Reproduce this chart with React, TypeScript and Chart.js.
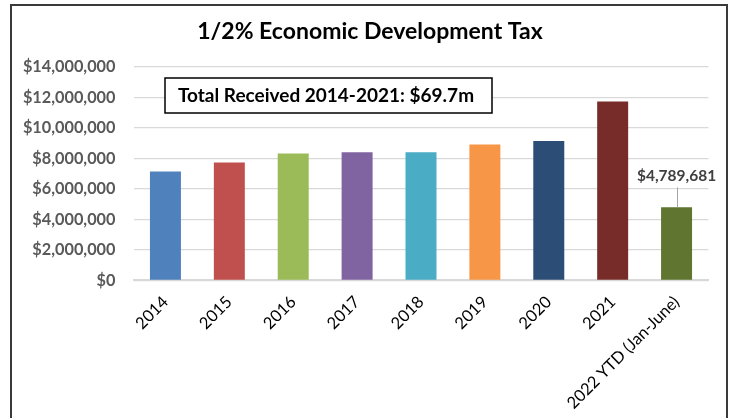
import React, { useEffect, useRef } from "react";
import { Chart, registerables } from "chart.js";

Chart.register(...registerables);

const categories = [
  "2014",
  "2015",
  "2016",
  "2017",
  "2018",
  "2019",
  "2020",
  "2021",
  "2022 YTD (Jan-June)",
];
const taxReceived = [
  7140000, 7740000, 8330000, 8400000, 8400000, 8920000, 9140000, 11740000, 4789681,
];
const barColors = [
  "#4F81BD",
  "#C0504D",
  "#9BBB59",
  "#8064A2",
  "#4BACC6",
  "#F79646",
  "#2C4D75",
  "#772C2A",
  "#5F7530",
];
const yTicksMax = 14000000;
const yTickStep = 2000000;
const chartTitle = "1/2% Economic Development Tax";
const totalNote = "Total Received 2014-2021: $69.7m";
const labelledIndex = 8;

const fmt = (v: number) => "$" + Math.round(v).toLocaleString("en-US");

const FONT = "Lato, 'Open Sans', sans-serif";

const decorPlugin = {
  id: "decor",
  beforeDraw(chart: any) {
    const ctx = chart.ctx;
    ctx.save();
    ctx.fillStyle = "#ffffff";
    ctx.fillRect(0, 0, chart.width, chart.height);
    ctx.strokeStyle = "#3a3a3a";
    ctx.lineWidth = 2;
    ctx.strokeRect(11, 5, 716, 440);
    // title
    ctx.fillStyle = "#000000";
    ctx.font = `bold 23px ${FONT}`;
    ctx.textAlign = "center";
    ctx.textBaseline = "middle";
    ctx.fillText(chartTitle, 370, 32);
    ctx.restore();
  },
  afterDatasetsDraw(chart: any) {
    const ctx = chart.ctx;
    const meta = chart.getDatasetMeta(0);
    const el = meta.data[labelledIndex];
    ctx.save();
    // leader line + value label
    ctx.strokeStyle = "#A6A6A6";
    ctx.lineWidth = 1;
    ctx.beginPath();
    ctx.moveTo(Math.round(el.x) + 0.5, el.y - 20);
    ctx.lineTo(Math.round(el.x) + 0.5, el.y);
    ctx.stroke();
    ctx.fillStyle = "#404040";
    ctx.font = `bold 15.5px ${FONT}`;
    ctx.textAlign = "center";
    ctx.textBaseline = "middle";
    ctx.fillText(fmt(taxReceived[labelledIndex]), el.x, el.y - 31);
    // note box
    ctx.fillStyle = "#ffffff";
    ctx.fillRect(165, 78, 327, 35);
    ctx.strokeStyle = "#000000";
    ctx.lineWidth = 1.5;
    ctx.strokeRect(165, 78, 327, 35);
    ctx.fillStyle = "#000000";
    ctx.font = `bold 19px ${FONT}`;
    ctx.textAlign = "center";
    ctx.fillText(totalNote, 326, 96);
    ctx.restore();
  },
};

export default function App() {
  const ref = useRef<HTMLCanvasElement>(null);
  useEffect(() => {
    if (!ref.current) return;
    const chart = new Chart(ref.current, {
      type: "bar",
      data: {
        labels: categories,
        datasets: [
          {
            data: taxReceived,
            backgroundColor: barColors,
            barPercentage: 0.485,
            categoryPercentage: 1,
          },
        ],
      },
      options: {
        animation: false,
        responsive: false,
        devicePixelRatio: 1,
        layout: { padding: { left: 0, right: 29.5, top: 67, bottom: 0 } },
        plugins: {
          legend: { display: false },
          tooltip: { enabled: false },
          title: { display: false },
        },
        scales: {
          x: {
            grid: { display: false, drawTicks: false },
            border: { display: true, color: "#D9D9D9", width: 2 },
            ticks: {
              color: "#000000",
              font: { family: FONT, size: 16.5 },
              maxRotation: 45,
              minRotation: 45,
              padding: 12,
              autoSkip: false,
            },
            afterFit: (s: any) => {
              s.height = 137.7;
            },
          },
          y: {
            min: 0,
            max: yTicksMax,
            grid: { color: "#D9D9D9", lineWidth: 1.3, drawTicks: false },
            border: { display: false },
            ticks: {
              stepSize: yTickStep,
              color: "#595959",
              font: { family: FONT, size: 16.3, weight: "bold" },
              padding: 18,
              callback: (v: any) => fmt(Number(v)),
            },
            afterFit: (s: any) => {
              s.width = 133.5;
            },
          },
        },
      },
      plugins: [decorPlugin],
    });
    return () => chart.destroy();
  }, []);
  return (
    <div style={{ position: "absolute", left: 0, top: 0, width: 738, height: 418 }}>
      <canvas ref={ref} width={738} height={418} />
    </div>
  );
}
